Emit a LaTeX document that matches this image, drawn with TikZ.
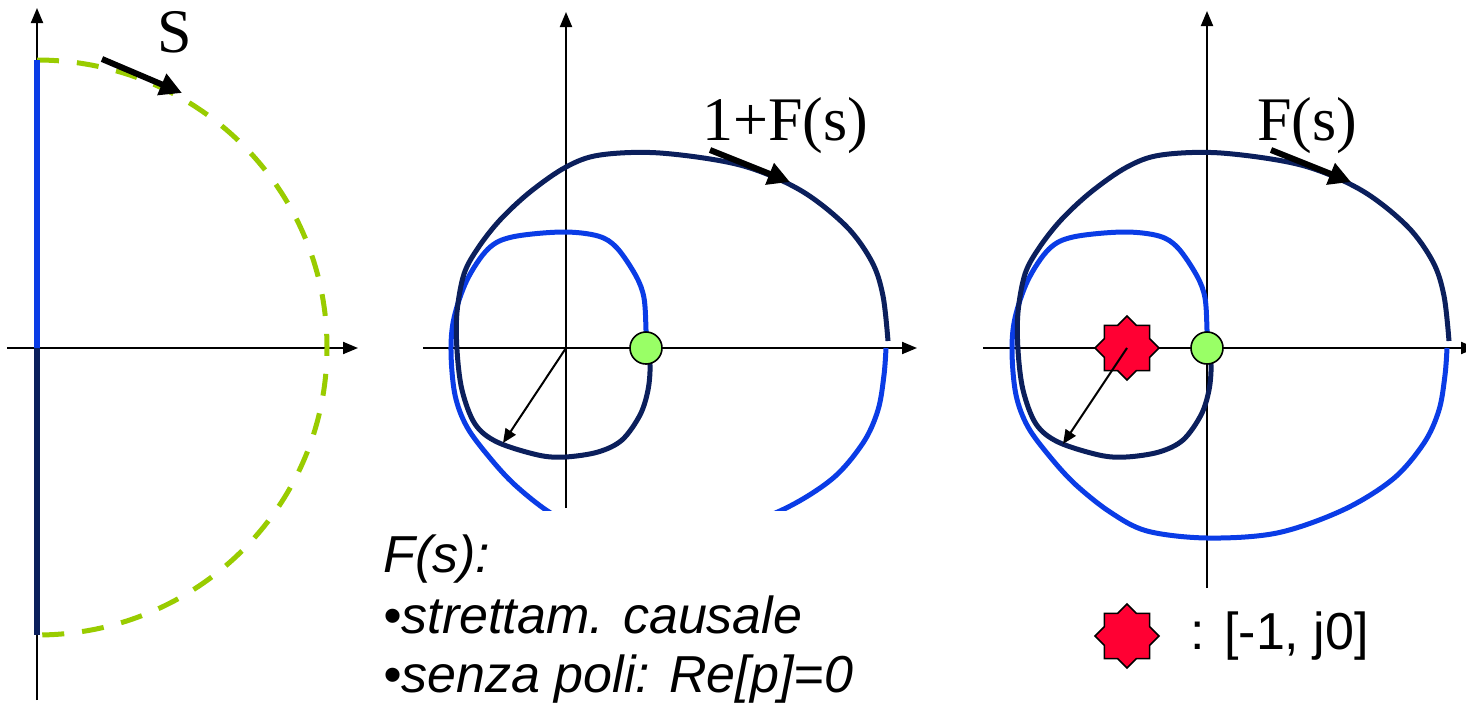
\documentclass[tikz,border=0pt]{standalone}
\usepackage{fontspec}
\setmainfont{Liberation Serif}
\setsansfont{Liberation Sans}
\usepackage{tikz}
\usetikzlibrary{arrows.meta,positioning,shapes.geometric}
\definecolor{Navy}{HTML}{0B1F5C}
\definecolor{Blue}{HTML}{0A3CE6}
\definecolor{Lime}{HTML}{99CC00}
\definecolor{Dot}{HTML}{99FF66}
\definecolor{Crit}{HTML}{FF0033}

\begin{document}
\begin{tikzpicture}[x=0.5pt,y=-0.5pt,
  axis/.style={line width=1pt,-{Triangle[length=7.5pt,width=6pt]}},
  locus/.style={line width=2.5pt,line join=round},
  dir/.style={line width=3pt,-{Triangle[length=11pt,width=11pt]}},
  vec/.style={line width=1pt,-{Triangle[length=7pt,width=6pt]}},
  lbl/.style={anchor=base west,inner sep=0,font=\fontsize{31}{36}\selectfont},
  note/.style={anchor=base west,inner sep=0,font=\fontsize{26}{30}\selectfont\sffamily\itshape},
  zero/.style={circle,draw,line width=0.8pt,fill=Dot,minimum size=16pt,inner sep=0},
  crit/.style={star,star points=8,star point ratio=1.31,draw,line width=0.8pt,fill=Crit,minimum size=32pt,inner sep=0}]
  \useasboundingbox (0,0) rectangle (1466,707);
  % s plane
  \draw[axis] (37,700) -- (37,8);
  \draw[axis] (7,348) -- (358,348);
  \draw[Lime,line width=2.5pt,dash pattern=on 11pt off 9pt] (37,60) arc[start angle=-90,end angle=90,x radius=290,y radius=287.5];
  \draw[Blue,line width=3pt] (37,60) -- (37,348);
  \draw[Navy,line width=3pt] (37,348) -- (37,635);
  \draw[dir] (102,59) -- (182,93);
  \node[lbl] (s) at (157,52) {S};
  % 1+F(s) and F(s) planes
  \draw[axis] (566,508) -- (566,12);
  \draw[axis] (423,348) -- (917,348);
  \draw[axis] (1207,588) -- (1207,11);
  \draw[axis] (983,348) -- (1476,348);
  \foreach \dx/\ycut in {0/510,561/707}{
    \begin{scope}[shift={(\dx,0)}]
      \clip (400,0) rectangle (940,\ycut);
      \draw[locus,Blue] plot[smooth,tension=.55] coordinates {(646,348) (646,330) (644,298) (636,276) (617,248) (598,236) (562,232) (512,237) (488,249) (467,280) (454,318) (451,352) (455,395) (467,427) (490,458) (515,485) (549,512) (586,531) (646,538) (716,533) (782,510) (832,479) (863,443) (878,410) (884,375) (886,348)};
      \draw[locus,Navy] plot[smooth,tension=.55] coordinates {(888,341) (883,296) (872,262) (846,226) (800,190) (740,165) (660,153) (600,155) (566,167) (530,192) (500,220) (478,248) (464,274) (457,312) (457,350) (462,390) (475,424) (497,442) (538,455) (565,457) (598,452) (622,440) (640,415) (648,390) (650,365) (646,348)};
      \draw[dir] (710,150) -- (790,182);
    \end{scope}
  }
  \node[lbl] (closed) at (702,140) {1+F(s)};
  \node[lbl] (open) at (1257,140) {F(s)};
  \coordinate (o2) at (566,348);
  \coordinate (v2) at (503,443);
  \coordinate (v3) at (1063,444);
  \node[zero] (z2) at (646,348) {};
  \node[zero] (z3) at (1207,348) {};
  \node[crit] (m1) at (1127,348) {};
  \draw[vec] (o2) -- (v2);
  \draw[vec] (m1.center) -- (v3);
  % notes
  \node[note] (fs) at (383,572) {F(s):};
  \node[note] (c1) at (383,633) {•strettam. causale};
  \node[note] (c2) at (383,692) {•senza poli: Re[p]=0};
  \node[crit] (key) at (1127,636) {};
  \node[note,font=\fontsize{26}{30}\selectfont\sffamily,anchor=west,right=15pt of key] (keytxt) {: [-1, j0]};
\end{tikzpicture}
\end{document}
